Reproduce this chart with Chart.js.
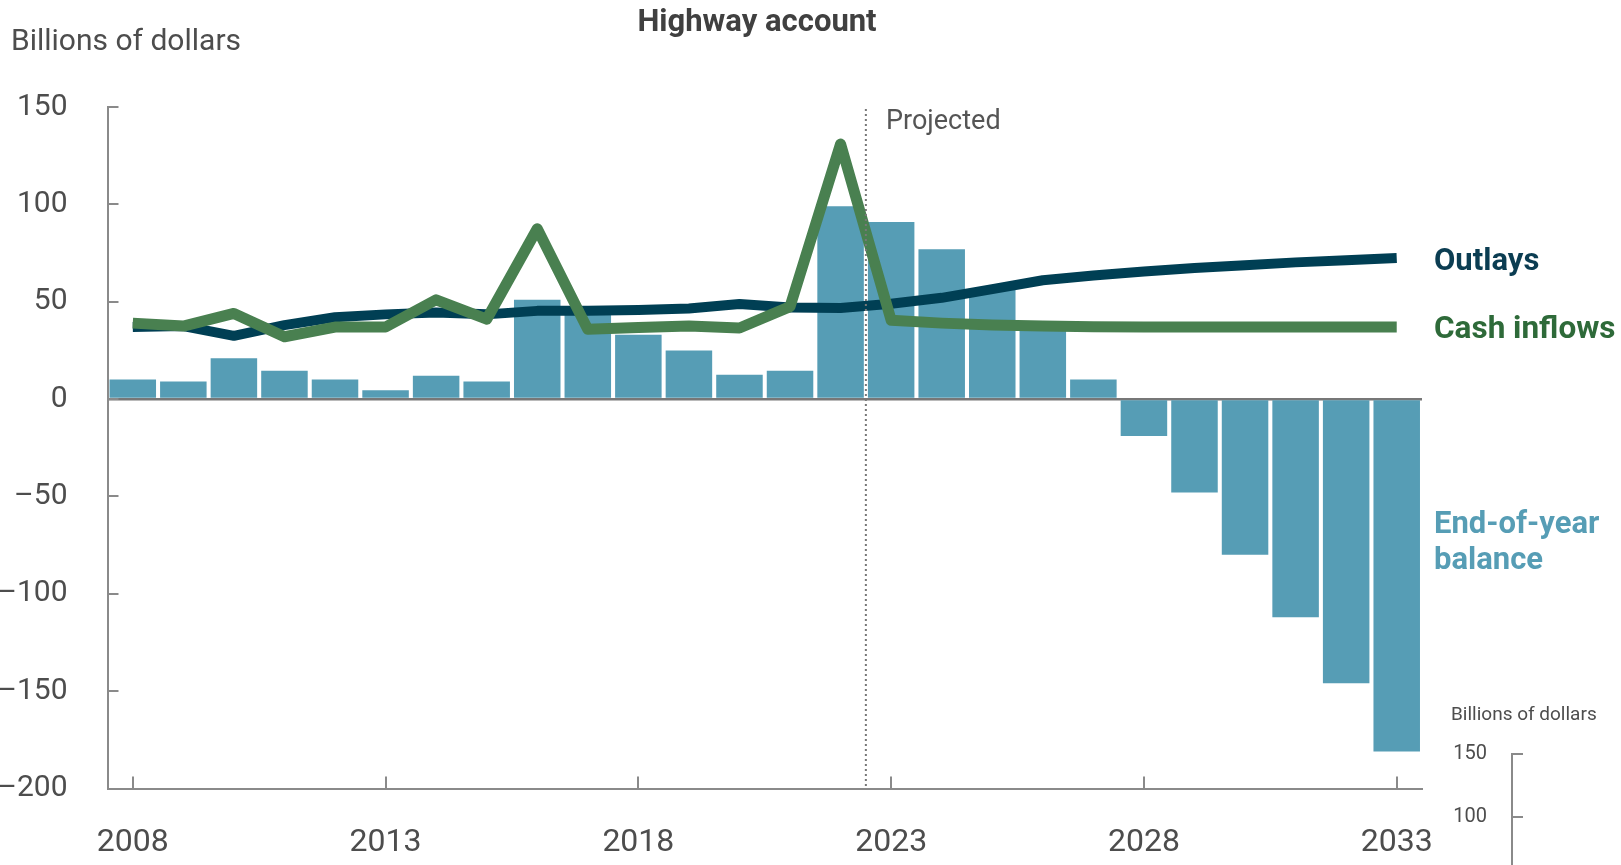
<!DOCTYPE html>
<html>
<head>
<meta charset="utf-8">
<script src="https://cdn.jsdelivr.net/npm/chart.js@4/dist/chart.umd.min.js"></script>
<style>
  body { margin: 0; overflow: hidden; background: #fff; font-family: Roboto, 'Liberation Sans', sans-serif; }
  .wrap { position: relative; width: 1621px; height: 865px; overflow: hidden; }
  .main { position: absolute; left: 0; top: 0; width: 1621px; height: 865px; }
  #chart2 { position: absolute; left: 1420px; top: 717px; }
  .txt { position: absolute; line-height: 1; white-space: nowrap; }
</style>
</head>
<body>
<div class="wrap">
  <div class="main"><canvas id="chart"></canvas></div>
  <canvas id="chart2" width="200" height="278"></canvas>

  <div class="txt" style="left:757px; top:5px; transform:translateX(-50%); font-size:31px; font-weight:bold; color:#404040;">Highway account</div>
  <div class="txt" style="left:11px; top:25px; font-size:30px; color:#4d4d4d;">Billions of dollars</div>
  <div class="txt" style="left:886px; top:107px; font-size:27px; color:#555;">Projected</div>
  <div class="txt" style="left:1434px; top:244px; font-size:31px; font-weight:bold; color:#0b3d52;">Outlays</div>
  <div class="txt" style="left:1434px; top:312px; font-size:31.5px; font-weight:bold; color:#2e6a39;">Cash inflows</div>
  <div class="txt" style="left:1434px; top:507px; font-size:31px; font-weight:bold; color:#569db5;">End-of-year</div>
  <div class="txt" style="left:1434px; top:543px; font-size:31px; font-weight:bold; color:#569db5;">balance</div>
  <div class="txt" style="left:1451px; top:704px; font-size:19px; color:#4d4d4d;">Billions of dollars</div>
</div>
<script>
// ---- data (billions of dollars) ----
const years = ['2008', '2009', '2010', '2011', '2012', '2013', '2014', '2015', '2016', '2017', '2018', '2019', '2020',
    '2021', '2022', '2023', '2024', '2025', '2026', '2027', '2028', '2029', '2030', '2031', '2032', '2033'];
const balance = [10, 9, 21, 14.5, 10, 4.5, 12, 9, 51, 45, 33, 25, 12.5, 14.5, 99, 91, 77, 56, 38, 10,
    -19, -48, -80, -112, -146, -181];
const outlays = [37, 37.5, 32.5, 38, 42, 43.5, 44.5, 43.5, 45.3, 45.3, 45.8, 46.5, 48.8, 47, 46.8, 49, 52, 56.5,
    61, 63.5, 65.5, 67.3, 68.7, 70.2, 71.3, 72.4];
const inflows = [39, 37.5, 44, 32, 37, 37, 51, 41, 87.5, 35.8, 36.8, 37.5, 36.5, 47.5, 131, 40.5, 39, 38, 37.5,
    37.2, 37, 37, 37, 37, 37, 37];
const labelYears = ['2008', '2013', '2018', '2023', '2028', '2033'];
const lastActual = '2022', firstProjected = '2023';

const axisColor = '#8a8a8a', textColor = '#4d4d4d';
const font = 'Roboto, "Liberation Sans", sans-serif';

// inward tick marks + projected divider
const extras = {
    id: 'extras',
    afterDatasetsDraw(chart, args, opts) {
        const ctx = chart.ctx, area = chart.chartArea;
        const y = chart.scales.y, x = chart.scales.x;
        ctx.save();
        ctx.strokeStyle = axisColor;
        ctx.lineWidth = 2;
        y.ticks.forEach(t => {
            const py = Math.round(y.getPixelForValue(t.value));
            ctx.beginPath();
            ctx.moveTo(area.left, py);
            ctx.lineTo(area.left + 11, py);
            ctx.stroke();
        });
        if (opts.xTicks) {
            labelYears.forEach(yr => {
                const px = Math.round(x.getPixelForValue(years.indexOf(yr)));
                ctx.beginPath();
                ctx.moveTo(px, area.bottom);
                ctx.lineTo(px, area.bottom - 12);
                ctx.stroke();
            });
        }
        if (opts.divider) {
            const px = (x.getPixelForValue(years.indexOf(lastActual)) + x.getPixelForValue(years.indexOf(firstProjected))) / 2;
            ctx.strokeStyle = '#777';
            ctx.setLineDash([2, 3]);
            ctx.beginPath();
            ctx.moveTo(px, area.top + 2);
            ctx.lineTo(px, area.bottom);
            ctx.stroke();
        }
        ctx.restore();
    }
};

new Chart(document.getElementById('chart'), {
    type: 'bar',
    data: {
        labels: years,
        datasets: [{
            type: 'line',
            label: 'Cash inflows',
            data: inflows,
            borderColor: '#498050',
            borderWidth: 11,
            borderJoinStyle: 'round',
            pointRadius: 0,
            tension: 0,
            order: 1
        }, {
            type: 'line',
            label: 'Outlays',
            data: outlays,
            borderColor: '#003f54',
            borderWidth: 10,
            borderJoinStyle: 'round',
            pointRadius: 0,
            tension: 0,
            order: 2
        }, {
            label: 'End-of-year balance',
            data: balance,
            backgroundColor: '#569db5',
            barPercentage: 0.92,
            categoryPercentage: 1,
            order: 3
        }]
    },
    options: {
        responsive: true,
        maintainAspectRatio: false,
        animation: false,
        layout: { padding: { left: 0, right: 199, top: 107, bottom: 0 } },
        plugins: {
            legend: { display: false },
            tooltip: { enabled: false },
            extras: { xTicks: true, divider: true }
        },
        scales: {
            x: {
                offset: true,
                grid: { display: false },
                border: { display: true, color: axisColor, width: 2 },
                ticks: {
                    autoSkip: false,
                    maxRotation: 0,
                    padding: 27,
                    color: textColor,
                    font: { family: font, size: 32 },
                    callback: function (v) {
                        const lab = this.getLabelForValue(v);
                        return labelYears.includes(lab) ? lab : '';
                    }
                },
                afterFit: s => { s.height = 76.5; }
            },
            y: {
                min: -200,
                max: 150,
                ticks: {
                    stepSize: 50,
                    padding: 40,
                    color: textColor,
                    font: { family: font, size: 30 },
                    callback: v => v < 0 ? '\u2013' + Math.abs(v) : String(v)
                },
                grid: {
                    drawTicks: false,
                    lineWidth: 2.5,
                    color: c => c.tick && c.tick.value === 0 ? '#777' : 'transparent'
                },
                border: { display: true, color: axisColor, width: 2 },
                afterFit: s => { s.width = 107.5; }
            }
        }
    },
    plugins: [extras]
});

// the next chart on the page, cut off at the bottom edge
new Chart(document.getElementById('chart2'), {
    type: 'bar',
    data: { labels: [''], datasets: [{ data: [null] }] },
    options: {
        responsive: false,
        animation: false,
        layout: { padding: { top: 22, right: 10, bottom: 52, left: 0 } },
        plugins: { legend: { display: false }, tooltip: { enabled: false }, extras: {} },
        scales: {
            x: { display: false },
            y: {
                min: 0,
                max: 150,
                ticks: { stepSize: 50, padding: 25, color: textColor, font: { family: font, size: 20 } },
                grid: { display: false, drawTicks: false },
                border: { display: true, color: axisColor, width: 2 },
                afterFit: s => { s.width = 92; }
            }
        }
    },
    plugins: [extras]
});
</script>
</body>
</html>
